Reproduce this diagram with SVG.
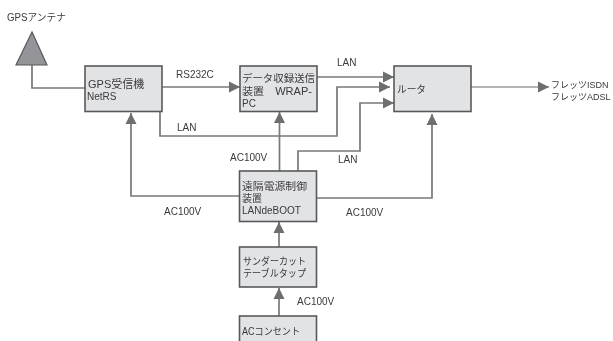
<svg xmlns="http://www.w3.org/2000/svg" width="613" height="341" viewBox="0 0 613 341">
<style>
.box{fill:#e2e3e5;stroke:#58595b;stroke-width:1.6}
.c{fill:none;stroke:#77787a;stroke-width:1.7}
.t{font-family:"Liberation Sans","Noto Sans CJK JP",sans-serif;font-size:10px;fill:#3a3a3c}
.b{font-size:11px}
.s{font-size:9px}
</style>
<defs>
<marker id="a" markerUnits="userSpaceOnUse" markerWidth="12" markerHeight="12" refX="11" refY="6" orient="auto"><path d="M0 .5 L11 6 L0 11.500Z" fill="#6d6e70"/></marker>
<filter id="soft" x="0" y="0" width="100%" height="100%"><feGaussianBlur stdDeviation="0.35"/></filter>
</defs>
<rect width="613" height="341" fill="#fff"/>
<g filter="url(#soft)">
<g id="connectors">
<path class="c" d="M32 65V88H85"/>
<path class="c" d="M162 87H240" marker-end="url(#a)"/>
<path class="c" d="M317 77H394" marker-end="url(#a)"/>
<path class="c" d="M160 111V136H337V87H390" marker-end="url(#a)"/>
<path class="c" d="M298 171V151H360V103H394" marker-end="url(#a)"/>
<path class="c" d="M471 87H549" style="stroke:#9a9b9d" marker-end="url(#a)"/>
<path class="c" d="M317 198H432V114" marker-end="url(#a)"/>
<path class="c" d="M239 196H131V113" marker-end="url(#a)"/>
<path class="c" d="M279.500 171V112" marker-end="url(#a)"/>
<path class="c" d="M279 247V222" marker-end="url(#a)"/>
<path class="c" d="M279 316V288" marker-end="url(#a)"/>
</g>
<g id="antenna">
<path d="M32 32L16 65H47Z" fill="#939598" stroke="#58595b" stroke-width="1.200"/>
<text class="t" x="7" y="21" textLength="59" lengthAdjust="spacingAndGlyphs">GPSアンテナ</text>
</g>
<g id="gps">
<rect class="box" x="85" y="66" width="77" height="45.500"/>
<text class="t b" x="88" y="88">GPS受信機</text>
<text class="t" x="87" y="100">NetRS</text>
</g>
<g id="data">
<rect class="box" x="240" y="66" width="77" height="45.500"/>
<text class="t" x="242" y="82" textLength="73" lengthAdjust="spacingAndGlyphs">データ収録送信</text>
<text class="t" x="242" y="95" textLength="70" lengthAdjust="spacingAndGlyphs">装置　WRAP-</text>
<text class="t" x="242" y="107">PC</text>
</g>
<g id="router">
<rect class="box" x="394" y="66" width="77" height="45.500"/>
<text class="t" x="397" y="93" textLength="29" lengthAdjust="spacingAndGlyphs">ルータ</text>
</g>
<g id="remote">
<rect class="box" x="239.500" y="171" width="77" height="50.500"/>
<text class="t" x="242" y="189.500" textLength="65" lengthAdjust="spacingAndGlyphs">遠隔電源制御</text>
<text class="t" x="242" y="201.500">装置</text>
<text class="t" x="242" y="213.500" textLength="59" lengthAdjust="spacingAndGlyphs">LANdeBOOT</text>
</g>
<g id="thunder">
<rect class="box" x="239.500" y="247" width="77" height="40"/>
<text class="t" x="243" y="265" textLength="63" lengthAdjust="spacingAndGlyphs">サンダーカット</text>
<text class="t" x="243" y="277" textLength="63" lengthAdjust="spacingAndGlyphs">テーブルタップ</text>
</g>
<g id="outlet">
<rect class="box" x="239.500" y="316" width="77" height="30"/>
<text class="t" x="242" y="335" textLength="58" lengthAdjust="spacingAndGlyphs">ACコンセント</text>
</g>
<g id="labels">
<text class="t" x="176" y="78">RS232C</text>
<text class="t" x="337" y="66">LAN</text>
<text class="t" x="177" y="131">LAN</text>
<text class="t" x="338" y="163">LAN</text>
<text class="t" x="230" y="161">AC100V</text>
<text class="t" x="164" y="215">AC100V</text>
<text class="t" x="346" y="216">AC100V</text>
<text class="t" x="297" y="305">AC100V</text>
<text class="t s" x="551" y="88">フレッツISDN</text>
<text class="t s" x="551" y="100">フレッツADSL</text>
</g>
</g>
</svg>
